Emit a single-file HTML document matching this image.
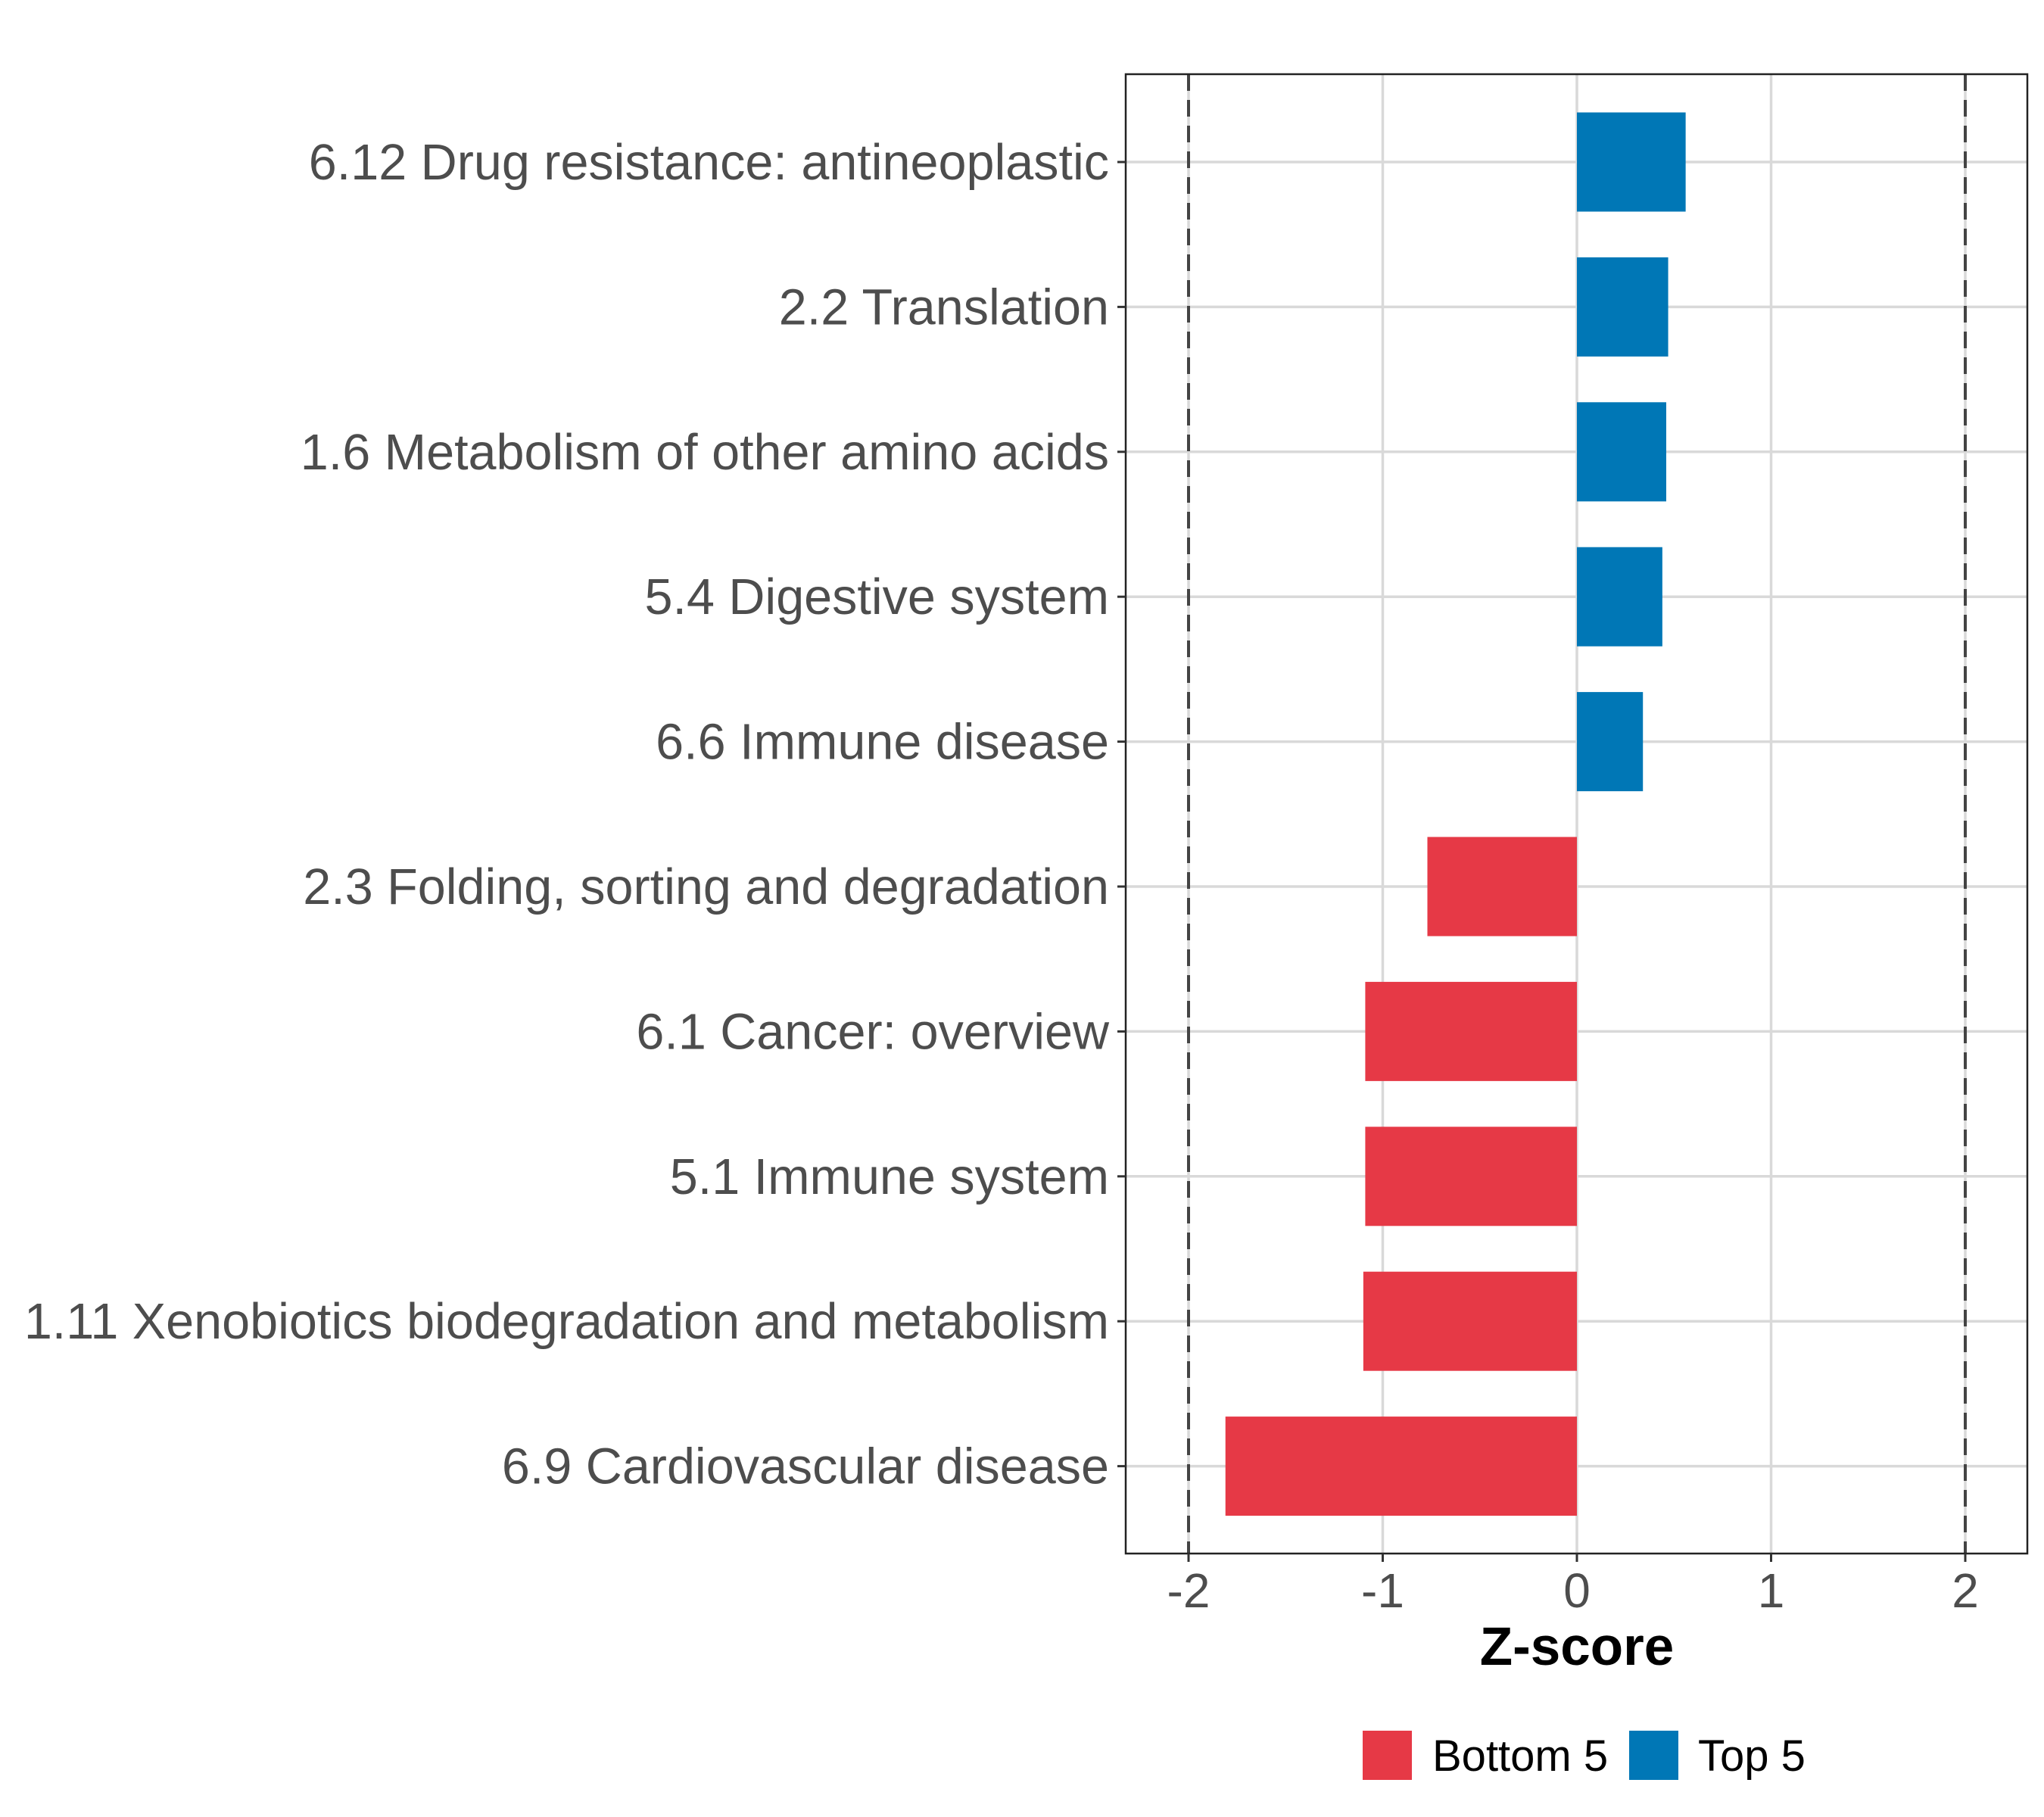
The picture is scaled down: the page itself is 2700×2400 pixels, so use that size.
<!DOCTYPE html>
<html><head><meta charset="utf-8">
<style>
html,body{margin:0;padding:0;background:#fff;}
svg{display:block;font-family:"Liberation Sans",Arial,sans-serif;}
</style></head>
<body>
<svg id="chart" width="2700" height="2400" viewBox="0 0 2700 2400" xmlns="http://www.w3.org/2000/svg">
<rect width="2700" height="2400" fill="#fff"/>
<g id="grid"></g>
<g id="bars"></g>
<g id="axes"></g>
<text x="2083" y="2199" font-size="71" font-weight="bold" text-anchor="middle" fill="#000">Z-score</text>
<g>
  <rect x="1800" y="2286" width="65" height="65" fill="#E63946"/>
  <text x="1892" y="2339" font-size="58" fill="#000">Bottom 5</text>
  <rect x="2152" y="2286" width="65" height="65" fill="#0077B6"/>
  <text x="2243" y="2339" font-size="58" fill="#000">Top 5</text>
</g>
</svg>
<script>
const categories = ["6.12 Drug resistance: antineoplastic","2.2 Translation","1.6 Metabolism of other amino acids","5.4 Digestive system","6.6 Immune disease","2.3 Folding, sorting and degradation","6.1 Cancer: overview","5.1 Immune system","1.11 Xenobiotics biodegradation and metabolism","6.9 Cardiovascular disease"];
const values = [0.56,0.47,0.46,0.44,0.34,-0.77,-1.09,-1.09,-1.10,-1.81];
const groups = ["Top 5","Top 5","Top 5","Top 5","Top 5","Bottom 5","Bottom 5","Bottom 5","Bottom 5","Bottom 5"];
const xTicks = [-2,-1,0,1,2];
const xTickLabels = ["-2","-1","0","1","2"];
const thresholds = [-2,2];

const NS="http://www.w3.org/2000/svg";
const L=1487,R=2678,T=98,B=2052;
const x0=2083, unit=256.5;
function xs(v){return x0+v*unit;}
function ys(i){return 214+i*191.4;}
const bh=131;
function mk(tag,attrs,parent){const e=document.createElementNS(NS,tag);for(const k in attrs)e.setAttribute(k,attrs[k]);parent.appendChild(e);return e;}
const grid=document.getElementById('grid'),bars=document.getElementById('bars'),axes=document.getElementById('axes');
xTicks.forEach((t,i)=>{
  const g=mk('line',{x1:xs(t),x2:xs(t),y1:T,y2:B,stroke:'#d9d9d9','stroke-width':3.5},grid);
  
  
});
categories.forEach((c,i)=>{
  const g=mk('line',{x1:L,x2:R,y1:ys(i),y2:ys(i),stroke:'#d9d9d9','stroke-width':3.5},grid);
  
  
});
values.forEach((v,i)=>{
  const a=xs(Math.min(0,v)),b=xs(Math.max(0,v));
  const r=mk('rect',{x:a,y:ys(i)-bh/2,width:b-a,height:bh,fill:groups[i]==="Top 5"?'#0077B6':'#E63946'},bars);
  
  
});
thresholds.forEach(t=>{
  const d=mk('line',{x1:xs(t),x2:xs(t),y1:T,y2:B,stroke:'#444','stroke-width':4,'stroke-dasharray':'22,12'},axes);
  
  
});
const fr=mk('rect',{x:L,y:T,width:R-L,height:B-T,fill:'none',stroke:'#222','stroke-width':2.5},axes);


xTicks.forEach((t,i)=>{
  const tk=mk('line',{x1:xs(t),x2:xs(t),y1:B,y2:B+11,stroke:'#333','stroke-width':3},axes);
  
  
  const tl=mk('text',{x:xs(t),y:2123,'font-size':64,'text-anchor':'middle',fill:'#4d4d4d'},axes);
  tl.textContent=xTickLabels[i];
  
  
});
categories.forEach((c,i)=>{
  const tk=mk('line',{x1:L-11,x2:L,y1:ys(i),y2:ys(i),stroke:'#333','stroke-width':3},axes);
  
  
  const tl=mk('text',{x:L-22,y:ys(i)+23,'font-size':66.5,'text-anchor':'end',fill:'#4d4d4d'},axes);
  tl.textContent=c;
  
  
});
</script>
</body></html>
